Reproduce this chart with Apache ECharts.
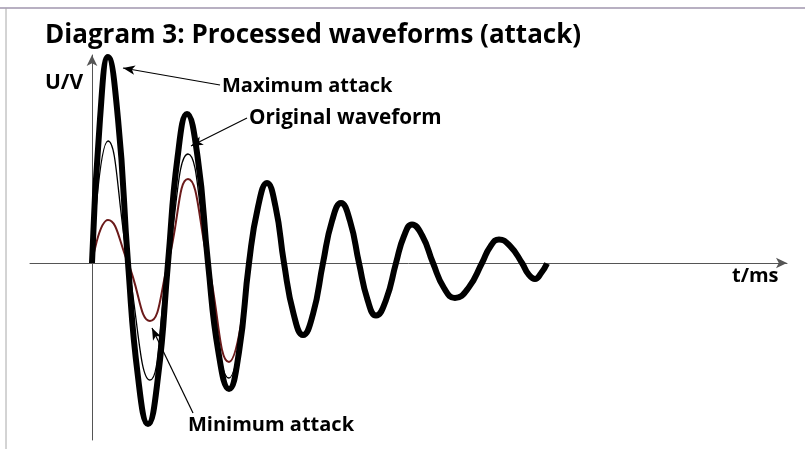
<!DOCTYPE html>
<html>
<head>
<meta charset="utf-8">
<title>Diagram 3</title>
<script src="https://cdn.jsdelivr.net/npm/echarts@6/dist/echarts.min.js"></script>
<style>
html, body { margin: 0; padding: 0; background: #fff; }
#chart { width: 805px; height: 449px; }
</style>
</head>
<body>
<div id="chart"></div>
<script>
var tMax = [0, 0.2, 0.4, 0.65, 0.9, 1.15, 1.4, 1.65, 1.9, 2.14, 2.375, 2.64, 2.9, 3.16, 3.425, 3.675, 3.925,
	4.15, 4.375, 4.59, 4.8, 5.04, 5.275, 5.525, 5.775, 6.0, 6.225, 6.45, 6.675, 6.89, 7.1, 7.35, 7.6,
	7.8, 8.0, 8.26, 8.525, 8.8, 9.075, 9.41, 9.75, 9.96, 10.175, 10.46, 10.75, 10.91, 11.075, 11.23, 11.375];
var uMax = [0, 7.2, 10.3, 7.2, 0, -5.7, -8.05, -5.7, 0, 5.3, 7.45, 5.3, 0, -4.45, -6.3, -4.45, 0,
	2.8, 4.0, 2.8, 0, -2.55, -3.6, -2.55, 0, 2.1, 3.0, 2.1, 0, -1.85, -2.63, -1.85, 0,
	1.35, 1.93, 1.35, 0, -1.25, -1.75, -1.25, 0, 0.83, 1.18, 0.83, 0, -0.56, -0.8, -0.5, -0.02];

// original waveform (thin black)
var tOrig = [0, 0.4, 0.9, 1.45, 1.9, 2.4, 2.9, 3.425, 3.925];
var uOrig = [0, 6.1, 0, -5.85, 0, 5.45, 0, -5.75, 0];

// minimum attack (thin dark red)
var tMin = [0, 0.4, 0.9, 1.45, 1.9, 2.4, 2.9, 3.425, 3.925];
var uMin = [0, 2.15, 0, -2.9, 0, 4.2, 0, -4.95, 0];

// annotation arrows: [tail, tip]
var arrowMax = [[3.2, 8.9], [0.775, 9.75]];
var arrowOrig = [[3.875, 7.25], [2.475, 5.85]];
var arrowMin = [[2.525, -7.5], [1.5, -3.25]];

function zip(ts, us) {
	var out = [];
	for (var i = 0; i < ts.length; i++) {
		out.push([ts[i], us[i]]);
	}
	return out;
}

function arrowLine(a) {
	return [{ coord: a[0] }, { coord: a[1] }];
}

var labelFont = 'bold 20px "Open Sans"';

var myChart = echarts.init(document.getElementById('chart'));
var option = {
	backgroundColor: '#fff',
	animation: false,
	grid: { left: 30, right: 18, top: 55, bottom: 9 },
	xAxis: {
		type: 'value',
		min: -1.55,
		max: 17.375,
		axisLine: {
			show: true,
			onZero: true,
			symbol: ['none', 'arrow'],
			symbolSize: [8, 11],
			lineStyle: { color: '#555', width: 1 }
		},
		axisTick: { show: false },
		axisLabel: { show: false },
		splitLine: { show: false }
	},
	yAxis: {
		type: 'value',
		min: -8.85,
		max: 10.4,
		axisLine: {
			show: true,
			onZero: true,
			symbol: ['none', 'arrow'],
			symbolSize: [8, 11],
			lineStyle: { color: '#555', width: 1 }
		},
		axisTick: { show: false },
		axisLabel: { show: false },
		splitLine: { show: false }
	},
	graphic: [
		{ type: 'line', silent: true, shape: { x1: 0, y1: 8, x2: 805, y2: 8 }, style: { stroke: '#b8b0c2', lineWidth: 2 } },
		{ type: 'line', silent: true, shape: { x1: 6, y1: 8, x2: 6, y2: 449 }, style: { stroke: '#a8a8a8', lineWidth: 1 } },
		{ type: 'text', x: 45, y: 36, style: { text: 'Diagram 3: Processed waveforms (attack)', font: 'bold 26px "Open Sans"', fill: '#000', verticalAlign: 'middle' } },
		{ type: 'text', x: 45, y: 83, style: { text: 'U/V', font: 'bold 21px "Open Sans"', fill: '#000', verticalAlign: 'middle' } },
		{ type: 'text', x: 222, y: 86, style: { text: 'Maximum attack', font: labelFont, fill: '#000', verticalAlign: 'middle' } },
		{ type: 'text', x: 249, y: 118, style: { text: 'Original waveform', font: 'bold 20.7px "Open Sans"', fill: '#000', verticalAlign: 'middle' } },
		{ type: 'text', x: 188, y: 425, style: { text: 'Minimum attack', font: labelFont, fill: '#000', verticalAlign: 'middle' } },
		{ type: 'text', x: 732, y: 276, style: { text: 't/ms', font: labelFont, fill: '#000', verticalAlign: 'middle' } }
	],
	series: [
		{
			name: 'Original waveform',
			type: 'line',
			data: zip(tOrig, uOrig),
			smooth: 0.5,
			showSymbol: false,
			z: 2,
			lineStyle: { color: '#000', width: 1.3 }
		},
		{
			name: 'Minimum attack',
			type: 'line',
			data: zip(tMin, uMin),
			smooth: 0.5,
			showSymbol: false,
			z: 2,
			lineStyle: { color: '#6b1a1a', width: 2 }
		},
		{
			name: 'Maximum attack',
			type: 'line',
			data: zip(tMax, uMax),
			smooth: 0.5,
			showSymbol: false,
			z: 3,
			lineStyle: { color: '#000', width: 6 },
			markLine: {
				silent: true,
				symbol: ['none', 'arrow'],
				symbolSize: [7, 12],
				label: { show: false },
				lineStyle: { color: '#000', width: 1.2, type: 'solid' },
				data: [arrowLine(arrowMax), arrowLine(arrowOrig), arrowLine(arrowMin)]
			}
		}
	]
};
myChart.setOption(option);
</script>
</body>
</html>
